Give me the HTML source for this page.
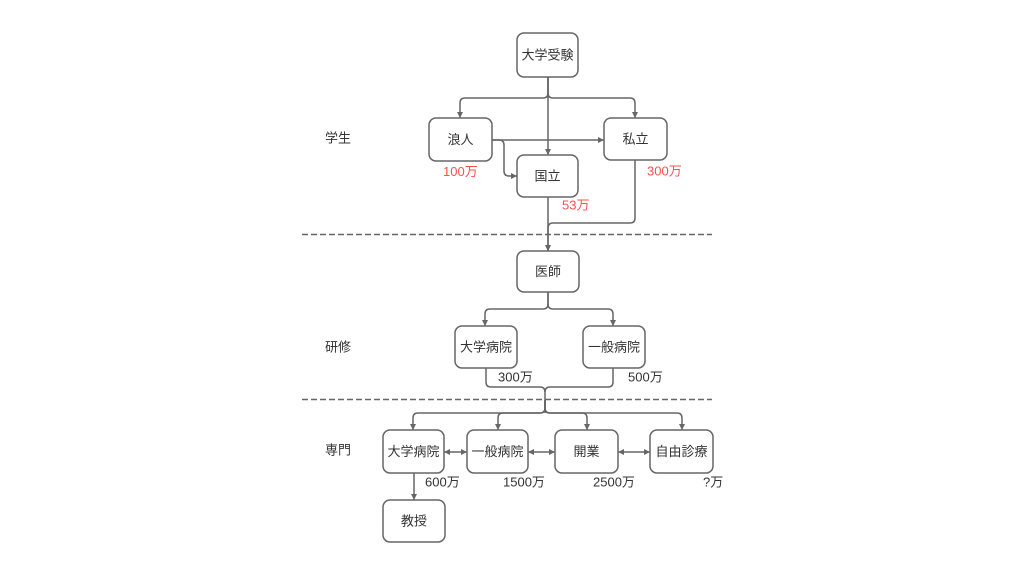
<!DOCTYPE html>
<html><head><meta charset="utf-8">
<style>
html,body{margin:0;padding:0;background:#fff;}
svg{display:block;}
text{font-family:"Liberation Sans","Noto Sans CJK JP",sans-serif;font-size:13px;fill:#333;dominant-baseline:central;}
.c{text-anchor:middle;}
.r{fill:#ff4f4f;}
.b{fill:#fff;stroke:#666;stroke-width:1.5;}
.l{fill:none;stroke:#666;stroke-width:1.5;}
</style></head>
<body>
<svg width="1024" height="576" viewBox="0 0 1024 576" xmlns="http://www.w3.org/2000/svg">
<defs>
<marker id="a" markerUnits="userSpaceOnUse" markerWidth="8" markerHeight="8" refX="6" refY="4" orient="auto">
<path d="M0,1 L6,4 L0,7 Z" fill="#666"/>
</marker>
<marker id="s" markerUnits="userSpaceOnUse" markerWidth="8" markerHeight="8" refX="0" refY="4" orient="auto">
<path d="M6,1 L0,4 L6,7 Z" fill="#666"/>
</marker>
</defs>

<!-- dashed separators -->
<line x1="302" y1="234.5" x2="712" y2="234.5" stroke="#666" stroke-width="1.5" stroke-dasharray="6 3"/>
<line x1="302" y1="399.5" x2="712" y2="399.5" stroke="#666" stroke-width="1.5" stroke-dasharray="6 3"/>

<!-- connectors -->
<path class="l" d="M548,77 V155" marker-end="url(#a)"/>
<path class="l" d="M548,77 V93 Q548,98 543,98 H465 Q460,98 460,103 V118" marker-end="url(#a)"/>
<path class="l" d="M548,77 V93 Q548,98 553,98 H630 Q635,98 635,103 V118" marker-end="url(#a)"/>
<path class="l" d="M492,140 H604" marker-end="url(#a)"/>
<path class="l" d="M492,140 H499 Q504,140 504,145 V171 Q504,176 509,176 H517" marker-end="url(#a)"/>
<path class="l" d="M548,197 V251" marker-end="url(#a)"/>
<path class="l" d="M635,160 V218 Q635,223 630,223 H553 Q548,223 548,228 V251" marker-end="url(#a)"/>

<path class="l" d="M548,292 V304 Q548,309 543,309 H490 Q485,309 485,314 V326" marker-end="url(#a)"/>
<path class="l" d="M548,292 V304 Q548,309 553,309 H608 Q613,309 613,314 V326" marker-end="url(#a)"/>

<path class="l" d="M486,368 V382 Q486,387 491,387 H540 Q545,387 545,392 V413"/>
<path class="l" d="M613,368 V382 Q613,387 608,387 H550 Q545,387 545,392"/>

<path class="l" d="M545,400 V408 Q545,413 540,413 H418 Q413,413 413,418 V430" marker-end="url(#a)"/>
<path class="l" d="M545,400 V408 Q545,413 540,413 H503 Q498,413 498,418 V430" marker-end="url(#a)"/>
<path class="l" d="M545,400 V408 Q545,413 550,413 H582 Q587,413 587,418 V430" marker-end="url(#a)"/>
<path class="l" d="M545,400 V408 Q545,413 550,413 H677 Q682,413 682,418 V430" marker-end="url(#a)"/>

<path class="l" d="M444,452 H467" marker-start="url(#s)" marker-end="url(#a)"/>
<path class="l" d="M528,452 H555" marker-start="url(#s)" marker-end="url(#a)"/>
<path class="l" d="M618,452 H650" marker-start="url(#s)" marker-end="url(#a)"/>
<path class="l" d="M414,473 V500" marker-end="url(#a)"/>

<!-- boxes -->
<rect class="b" x="517" y="33" width="61" height="44" rx="7"/>
<rect class="b" x="429" y="118" width="63" height="43" rx="7"/>
<rect class="b" x="604" y="118" width="63" height="42" rx="7"/>
<rect class="b" x="517" y="155" width="61" height="42" rx="7"/>
<rect class="b" x="517" y="251" width="62" height="41" rx="7"/>
<rect class="b" x="455" y="326" width="62" height="42" rx="7"/>
<rect class="b" x="583" y="326" width="62" height="42" rx="7"/>
<rect class="b" x="383" y="430" width="61" height="43" rx="7"/>
<rect class="b" x="467" y="430" width="61" height="43" rx="7"/>
<rect class="b" x="555" y="430" width="63" height="43" rx="7"/>
<rect class="b" x="650" y="430" width="63" height="43" rx="7"/>
<rect class="b" x="383" y="500" width="62" height="42" rx="7"/>

<!-- box labels -->
<text class="c" x="547.5" y="55">大学受験</text>
<text class="c" x="460.5" y="139.5">浪人</text>
<text class="c" x="635.5" y="139">私立</text>
<text class="c" x="547.5" y="176">国立</text>
<text class="c" x="548" y="271.5">医師</text>
<text class="c" x="486" y="347">大学病院</text>
<text class="c" x="614" y="347">一般病院</text>
<text class="c" x="413.5" y="451.5">大学病院</text>
<text class="c" x="497.5" y="451.5">一般病院</text>
<text class="c" x="586.5" y="451.5">開業</text>
<text class="c" x="681.5" y="451.5">自由診療</text>
<text class="c" x="414" y="521">教授</text>

<!-- section labels -->
<text x="325" y="138">学生</text>
<text x="325" y="347">研修</text>
<text x="325" y="450">専門</text>

<!-- amounts -->
<text class="r" x="443" y="171.5">100万</text>
<text class="r" x="647" y="171">300万</text>
<text class="r" x="562" y="205">53万</text>
<text x="498" y="377">300万</text>
<text x="628" y="377">500万</text>
<text x="425" y="482">600万</text>
<text x="503" y="482">1500万</text>
<text x="593" y="482">2500万</text>
<text x="703" y="482">?万</text>
</svg>
</body></html>
